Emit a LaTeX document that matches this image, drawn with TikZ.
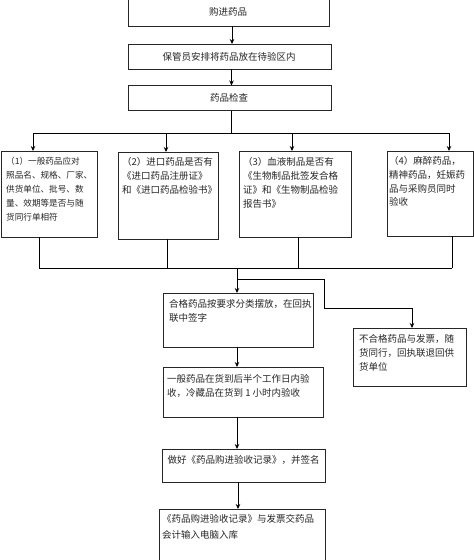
\documentclass[tikz,border=0pt]{standalone}
\usepackage{fontspec}
\newfontfamily\cjk{Noto Sans CJK SC}
\usetikzlibrary{arrows.meta}
\tikzset{
  box/.style={draw=black!85, line width=0.9pt, rectangle, inner sep=0pt, outer sep=0pt, anchor=north west},
  txt/.style={font=\cjk\fontsize{9.5}{14}\selectfont, align=left, inner sep=0pt, anchor=north west, text=black!85},
  ctxt/.style={font=\cjk\fontsize{9.5}{14}\selectfont, align=center, inner sep=0pt, anchor=center, text=black!85},
  arr/.style={-{Stealth[length=5pt,width=4.5pt]}, line width=0.9pt},
  ln/.style={line width=0.9pt}
}
\begin{document}
\begin{tikzpicture}[x=1pt,y=-1pt]
\useasboundingbox (0,0) rectangle (474,560);
\fill[white] (0,0) rectangle (474,560);
% boxes
\node[box, minimum width=201pt, minimum height=31pt] (b1) at (128,-5) {};
\node[box, minimum width=203pt, minimum height=25pt] (b2) at (128,44) {};
\node[box, minimum width=203pt, minimum height=25pt] (b3) at (128,85.5) {};
\node[box, minimum width=96pt, minimum height=86pt] (bA) at (1,151) {};
\node[box, minimum width=100pt, minimum height=87pt] (bB) at (118,152) {};
\node[box, minimum width=112pt, minimum height=86pt] (bC) at (239,151) {};
\node[box, minimum width=86pt, minimum height=85pt] (bD) at (387,151) {};
\node[box, minimum width=150pt, minimum height=54pt] (bE) at (163,293) {};
\node[box, minimum width=113pt, minimum height=58pt] (bF) at (353,328) {};
\node[box, minimum width=160pt, minimum height=50pt] (bG) at (163,367) {};
\node[box, minimum width=163pt, minimum height=33pt] (bH) at (162,449) {};
\node[box, minimum width=166pt, minimum height=60pt] (bI) at (159,509) {};
% texts
\node[ctxt] (t1) at (228,12) {购进药品};
\node[ctxt] (t2) at (229,56.5) {保管员安排将药品放在待验区内};
\node[ctxt] (t3) at (229,98) {药品检查};
\node[txt, font=\cjk\fontsize{8.6}{14}\selectfont] (tA) at (6,157) {（1）一般药品应对\\照品名、规格、厂家、\\供货单位、批号、数\\量、效期等是否与随\\货同行单相符};
\node[txt] (tB) at (122,157.5) {（2）进口药品是否有\\《进口药品注册证》\\和《进口药品检验书》};
\node[txt] (tC) at (243,157.5) {（3）血液制品是否有\\《生物制品批签发合格\\证》和《生物制品检验\\报告书》};
\node[txt, font=\cjk\fontsize{9.5}{13.7}\selectfont] (tD) at (389,156.5) {（4）麻醉药品，\\精神药品，妊娠药\\品与采购员同时\\验收};
\node[txt] (tE) at (169,299.5) {合格药品按要求分类摆放，在回执\\联中签字};
\node[txt] (tF) at (359,334.5) {不合格药品与发票，随\\货同行，回执联退回供\\货单位};
\node[txt] (tG) at (167,374.5) {一般药品在货到后半个工作日内验\\收，冷藏品在货到 1 小时内验收};
\node[ctxt] (tH) at (243.5,460) {做好《药品购进验收记录》，并签名};
\node[txt, font=\cjk\fontsize{9.5}{16}\selectfont] (tI) at (162,514) {《药品购进验收记录》与发票交药品\\会计输入电脑入库};
% junction coordinates
\coordinate (s3) at (231.5,133);
\coordinate (hA) at (33,133);
\coordinate (hB) at (166,133);
\coordinate (hC) at (292,133);
\coordinate (hD) at (449,133);
\coordinate (jA) at (39,268);
\coordinate (jB) at (167,268);
\coordinate (jC) at (298,268);
\coordinate (jD) at (452,268);
\coordinate (jM) at (237,268);
\coordinate (k1) at (237,279);
\coordinate (k2) at (324,279);
\coordinate (k3) at (324,308);
\coordinate (k4) at (412,308);
% connectors
\draw[arr] ([xshift=3.5pt]b1.south) -- ([xshift=3.5pt]b1.south |- b2.north);
\draw[arr] ([xshift=2pt]b2.south) -- ([xshift=2pt]b2.south |- b3.north);
\draw[ln] (s3 |- b3.south) -- (s3);
\draw[ln] (hA) -- (hD);
\draw[arr] (hA) -- (hA |- bA.north);
\draw[arr] (hB) -- (hB |- bB.north);
\draw[arr] (hC) -- (hC |- bC.north);
\draw[arr] (hD) -- (hD |- bD.north);
\draw[ln] (jA |- bA.south) -- (jA);
\draw[ln] (jB |- bB.south) -- (jB);
\draw[ln] (jC |- bC.south) -- (jC);
\draw[ln] (jD |- bD.south) -- (jD);
\draw[ln] (jA) -- (jD);
\draw[arr] (jM) -- (jM |- bE.north);
\draw[arr] (k1) -- (k2) -- (k3) -- (k4) -- (k4 |- bF.north);
\draw[arr] (jM |- bE.south) -- (jM |- bG.north);
\draw[arr] (jM |- bG.south) -- (jM |- bH.north);
\draw[arr] ([xshift=1pt]jM |- bH.south) -- ([xshift=1pt]jM |- bI.north);
\end{tikzpicture}
\end{document}
